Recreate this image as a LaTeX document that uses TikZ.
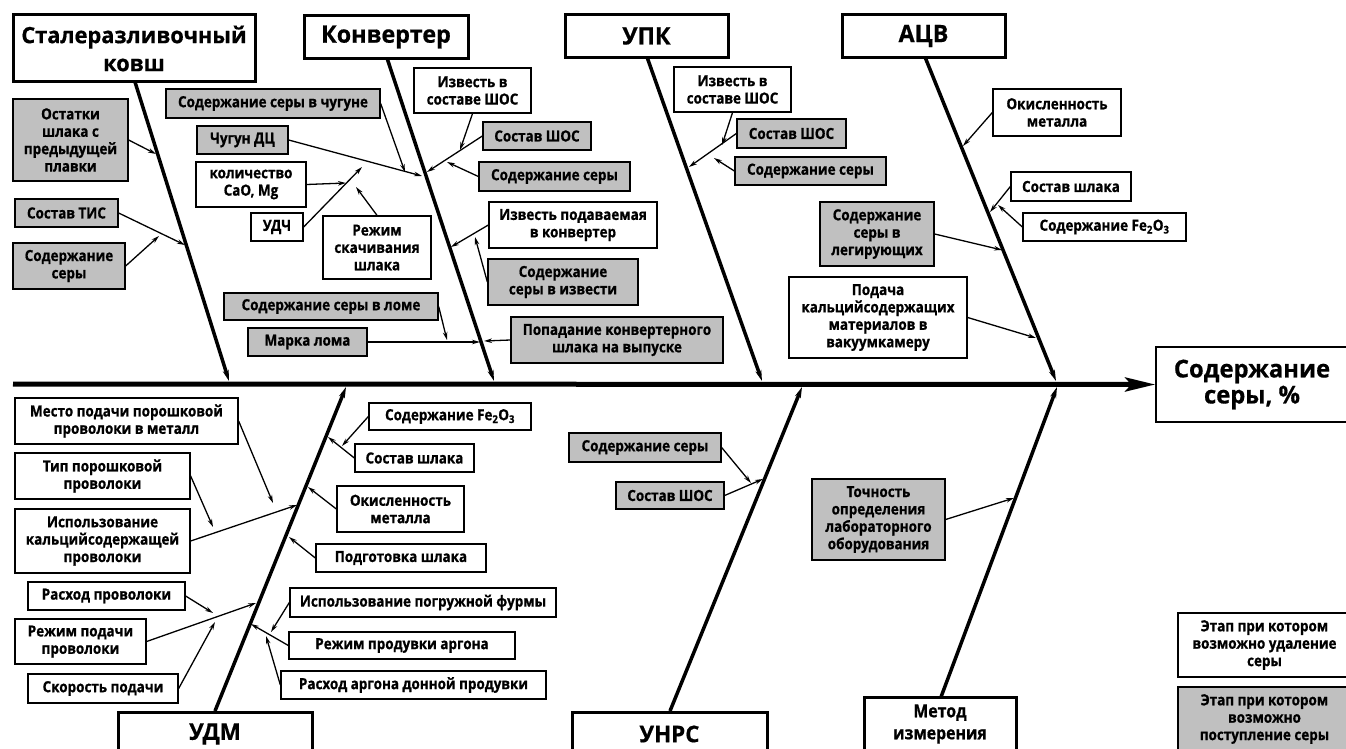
\documentclass[tikz,border=0pt]{standalone}
\usepackage{fontspec}
\setmainfont{Open Sans}
\newfontfamily\lblfont{Open Sans}[FakeStretch=0.88,FakeBold=0.8]
\newfontfamily\bigfont{Open Sans}[FakeStretch=0.97,FakeBold=0.6]
\usetikzlibrary{arrows.meta}
\definecolor{boxgray}{RGB}{192,192,192}
\tikzset{
  sm/.style={draw, line width=1.3pt, align=center, inner sep=0pt, font=\lblfont\fontsize{15.3}{17.4}\selectfont\bfseries},
  gbox/.style={sm, fill=boxgray},
  wbox/.style={sm, fill=white},
  cat/.style={draw, line width=3pt, fill=white, align=center, inner sep=0pt, font=\bigfont\fontsize{24}{28}\selectfont\bfseries},
  bone/.style={line width=3.5pt, -{Stealth[length=11pt,width=6pt]}},
  sub/.style={line width=1.3pt, -{Stealth[length=8pt,width=4.5pt]}},
}
\begin{document}
\begin{tikzpicture}[x=1pt,y=-1pt]
\path[use as bounding box] (0,0) rectangle (1346,749);
\clip (0,0) rectangle (1346,749);
\fill[white] (0,0) rectangle (1346,749);

% ---------- category boxes ----------
\node[cat, font=\bigfont\fontsize{22.5}{28}\selectfont\bfseries, minimum width=242, minimum height=67] (ladle) at (134,48.5) {Сталеразливочный\\ковш};
\node[cat, minimum width=164, minimum height=43] (conv) at (386,37) {Конвертер};
\node[cat, minimum width=163, minimum height=43] (upk) at (646.5,36) {УПК};
\node[cat, minimum width=163, minimum height=43] (acv) at (923.5,36) {АЦВ};
\node[cat, font=\bigfont\fontsize{23}{28}\selectfont\bfseries, minimum width=194, minimum height=44] (udm) at (215,734) {УДМ};
\node[cat, font=\bigfont\fontsize{23}{28}\selectfont\bfseries, minimum width=195, minimum height=44] (unrs) at (669.5,734) {УНРС};
\node[cat, font=\lblfont\fontsize{18}{22}\selectfont\bfseries, minimum width=152, minimum height=54] (meth) at (940,724) {Метод\\измерения};
\node[draw, line width=1.5pt, fill=white, align=center, inner sep=0pt, font=\bigfont\fontsize{24.5}{26}\selectfont\bfseries, minimum width=192, minimum height=75] (eff) at (1252,384.5) {Содержание\\серы, \%};

% ---------- legend ----------
\node[wbox, minimum width=173, minimum height=64] (leg1) at (1264.5,645) {Этап при котором\\возможно удаление\\серы};
\node[gbox, minimum width=173, minimum height=64] (leg2) at (1264.5,719) {Этап при котором\\возможно\\поступление серы};

% ---------- spine and bones ----------
\coordinate (spL) at (13,384);
\draw[line width=5pt, -{Stealth[length=30pt,width=14pt,inset=6pt]}] (spL) -- (eff.west);

\coordinate (bLt) at (135,82);   \coordinate (bLb) at (229,381);
\coordinate (bCt) at (387,58);   \coordinate (bCb) at (494,381);
\coordinate (bUt) at (647,57);   \coordinate (bUb) at (762,381);
\coordinate (bAt) at (925,57);   \coordinate (bAb) at (1056,381);
\coordinate (bDb) at (215,711);  \coordinate (bDt) at (346,387);
\coordinate (bNb) at (670,711);  \coordinate (bNt) at (802,387);
\coordinate (bMb) at (941,697);  \coordinate (bMt) at (1057,387);
\draw[bone] (bLt) -- (bLb);
\draw[bone] (bCt) -- (bCb);
\draw[bone] (bUt) -- (bUb);
\draw[bone] (bAt) -- (bAb);
\draw[bone] (bDb) -- (bDt);
\draw[bone] (bNb) -- (bNt);
\draw[bone] (bMb) -- (bMt);

% ---------- ladle ----------
\node[gbox, minimum width=115, minimum height=82] (l1) at (70.5,140) {Остатки\\шлака с\\предыдущей\\плавки};
\node[gbox, minimum width=103, minimum height=28] (l2) at (66.5,213) {Состав ТИС};
\node[gbox, minimum width=112, minimum height=46] (l3) at (69,266) {Содержание\\серы};
\coordinate (tl1) at (156,154);
\coordinate (tl2) at (185,245);
\coordinate (tl3) at (159,236);
\draw[sub] (l1.east) -- (tl1);
\draw[sub] (l2.east) -- (tl2);
\draw[sub] (l3.east) -- (tl3);

% ---------- converter ----------
\node[gbox, minimum width=214, minimum height=29] (c1) at (273,103.5) {Содержание серы в чугуне};
\node[gbox, minimum width=91, minimum height=28] (c2) at (242.5,140) {Чугун ДЦ};
\node[wbox, minimum width=110, minimum height=45] (c3) at (251,184.5) {количество\\CaO, Mg};
\node[wbox, minimum width=52, minimum height=28] (c4) at (277,227) {УДЧ};
\node[wbox, minimum width=108, minimum height=63] (c5) at (377,247.5) {Режим\\скачивания\\шлака};
\node[wbox, minimum width=117, minimum height=45] (c6) at (472.5,90.5) {Известь в\\составе ШОС};
\node[gbox, minimum width=108, minimum height=28] (c7) at (537,136) {Состав ШОС};
\node[gbox, minimum width=151, minimum height=29] (c8) at (554.5,176.5) {Содержание серы};
\node[wbox, minimum width=168, minimum height=46] (c9) at (573,225) {Известь подаваемая\\в конвертер};
\node[gbox, minimum width=150, minimum height=46] (c10) at (563,282) {Содержание\\серы в извести};
\node[gbox, minimum width=214, minimum height=27] (c11) at (331,306.5) {Содержание серы в ломе};
\node[gbox, minimum width=119, minimum height=28] (c12) at (307.5,342) {Марка лома};
\node[gbox, minimum width=212, minimum height=46] (c13) at (617,340) {Попадание конвертерного\\шлака на выпуске};
\coordinate (tc1) at (405,172);
\coordinate (tc2) at (422,176);
\coordinate (tc3) at (346,183);
\coordinate (tc4) at (362,167);
\coordinate (tc5) at (356,187);
\coordinate (tc6) at (460,150);
\coordinate (tc7) at (427,172);
\coordinate (tc8) at (447,162);
\coordinate (tc9) at (451,247);
\coordinate (tc10) at (475,237);
\coordinate (tc11) at (447,340);
\coordinate (tc12) at (480,342);
\coordinate (tc13) at (484,341);
\draw[sub] (c1.east) -- (tc1);
\draw[sub] (c2.east) -- (tc2);
\draw[sub] (c3.east) -- (tc3);
\draw[sub] (c4.east) -- (tc4);
\draw[sub] (c5.north) -- (tc5);
\draw[sub] (c6.south) -- (tc6);
\draw[sub] (c7.west) -- (tc7);
\draw[sub] (c8.west) -- (tc8);
\draw[sub] (c9.west) -- (tc9);
\draw[sub] (c10.west) -- (tc10);
\draw[sub] (c11.east) -- (tc11);
\draw[sub] (c12.east) -- (tc12);
\draw[sub] (c13.west) -- (tc13);

% ---------- UPK ----------
\node[wbox, minimum width=117, minimum height=45] (u1) at (732.5,89.5) {Известь в\\составе ШОС};
\node[gbox, minimum width=109, minimum height=29] (u2) at (791.5,133.5) {Состав ШОС};
\node[gbox, minimum width=151, minimum height=28] (u3) at (810.5,171) {Содержание серы};
\coordinate (tu1) at (722,145);
\coordinate (tu2) at (689,167);
\coordinate (tu3) at (714,158);
\draw[sub] (u1.south) -- (tu1);
\draw[sub] (u2.west) -- (tu2);
\draw[sub] (u3.west) -- (tu3);

% ---------- ACV ----------
\node[wbox, minimum width=128, minimum height=47] (a1) at (1057,112.5) {Окисленность\\металла};
\node[wbox, minimum width=120, minimum height=29] (a2) at (1071,186.5) {Состав шлака};
\node[wbox, minimum width=163, minimum height=28] (a3) at (1104.5,227) {Содержание Fe\textsubscript{2}O\textsubscript{3}};
\node[gbox, minimum width=114, minimum height=64] (a4) at (877,234) {Содержание\\серы в\\легирующих};
\node[wbox, minimum width=178, minimum height=81] (a5) at (878,317.5) {Подача\\кальцийсодержащих\\материалов в\\вакуумкамеру};
\coordinate (ta1) at (963,146);
\coordinate (ta2) at (990,212);
\coordinate (ta3) at (998,205);
\coordinate (ta4) at (1002,250);
\coordinate (ta5) at (1036,338);
\draw[sub] (a1.west) -- (ta1);
\draw[sub] (a2.west) -- (ta2);
\draw[sub] (a3.west) -- (ta3);
\draw[sub] (a4.east) -- (ta4);
\draw[sub] (a5.east) -- (ta5);

% ---------- UDM ----------
\node[wbox, minimum width=223, minimum height=46] (d1) at (126.5,421) {Место подачи порошковой\\проволоки в металл};
\node[wbox, minimum width=175, minimum height=46] (d2) at (102.5,476) {Тип порошковой\\проволоки};
\node[wbox, minimum width=175, minimum height=64] (d3) at (102.5,541) {Использование\\кальцийсодержащей\\проволоки};
\node[wbox, minimum width=157, minimum height=28] (d4) at (106.5,596) {Расход проволоки};
\node[wbox, minimum width=131, minimum height=45] (d5) at (80.5,641.5) {Режим подачи\\проволоки};
\node[wbox, minimum width=150, minimum height=29] (d6) at (103,688.5) {Скорость подачи};
\coordinate (td1) at (273,503);
\coordinate (td2) at (213,527);
\coordinate (td3) at (297,505);
\coordinate (td4) at (213,613);
\coordinate (td5) at (256,603);
\coordinate (td6) at (215,622);
\draw[sub] (d1.east) -- (td1);
\draw[sub] (d2.east) -- (td2);
\draw[sub] (d3.east) -- (td3);
\draw[sub] (d4.east) -- (td4);
\draw[sub] (d5.east) -- (td5);
\draw[sub] (d6.east) -- (td6);

\node[wbox, minimum width=162, minimum height=27] (e1) at (450,416.5) {Содержание Fe\textsubscript{2}O\textsubscript{3}};
\node[wbox, minimum width=119, minimum height=28] (e2) at (414.5,458) {Состав шлака};
\node[wbox, minimum width=127, minimum height=46] (e3) at (400.5,509) {Окисленность\\металла};
\node[wbox, minimum width=170, minimum height=28] (e4) at (401,558) {Подготовка шлака};
\node[wbox, minimum width=266, minimum height=29] (e5) at (423,602.5) {Использование погружной фурмы};
\node[wbox, minimum width=226, minimum height=27] (e6) at (402,645.5) {Режим продувки аргона};
\node[wbox, minimum width=265, minimum height=28] (e7) at (413.5,685) {Расход аргона донной продувки};
\coordinate (te1) at (342,446);
\coordinate (te2) at (328,437);
\coordinate (te3) at (308,487);
\coordinate (te4) at (289,537);
\coordinate (te5) at (271,632);
\coordinate (te6) at (251,624);
\coordinate (te7) at (266,636);
\draw[sub] (e1.west) -- (te1);
\draw[sub] (e2.west) -- (te2);
\draw[sub] (e3.west) -- (te3);
\draw[sub] (e4.west) -- (te4);
\draw[sub] (e5.west) -- (te5);
\draw[sub] (e6.west) -- (te6);
\draw[sub] (e7.west) -- (te7);

% ---------- UNRS ----------
\node[gbox, minimum width=152, minimum height=29] (n1) at (645,447.5) {Содержание серы};
\node[gbox, minimum width=108, minimum height=27] (n2) at (670,495.5) {Состав ШОС};
\coordinate (tn1) at (751,483);
\coordinate (tn2) at (763,479);
\draw[sub] (n1.east) -- (tn1);
\draw[sub] (n2.east) -- (tn2);

% ---------- method ----------
\node[gbox, minimum width=133, minimum height=81] (m1) at (878.5,519.5) {Точность\\определения\\лабораторного\\оборудования};
\coordinate (tm1) at (1014,498);
\draw[sub] (m1.east) -- (tm1);
\end{tikzpicture}
\end{document}
